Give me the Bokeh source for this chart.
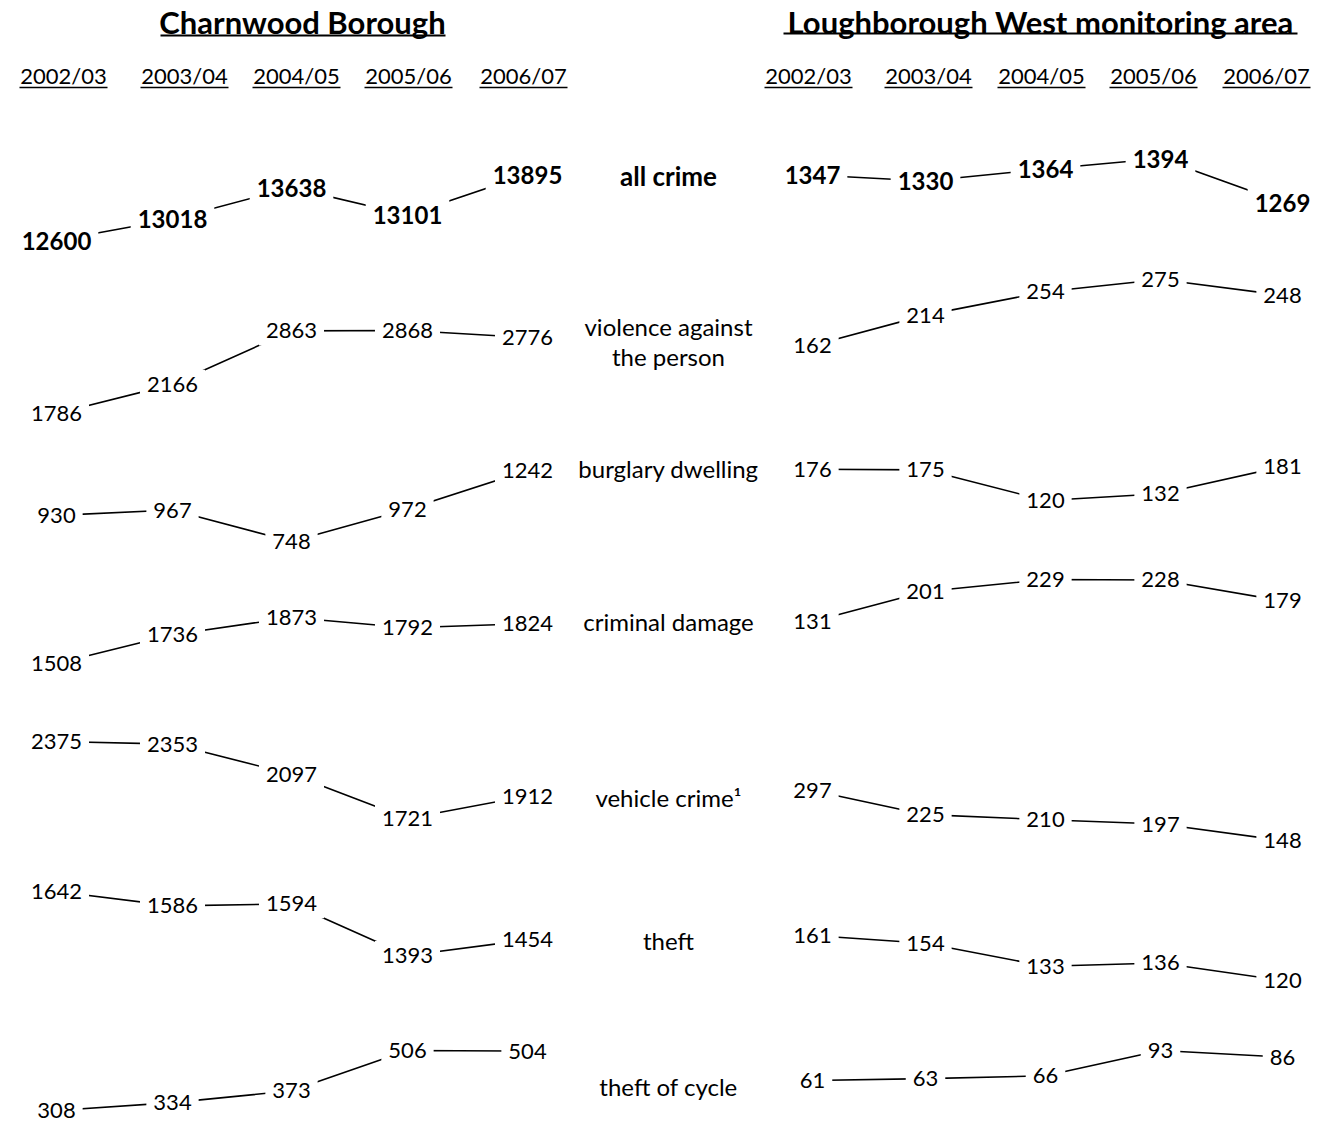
from bokeh.plotting import figure
from bokeh.models import Range1d, ColumnDataSource
from bokeh.embed import file_html
from bokeh.resources import INLINE
from bokeh.core.properties import value

# ---------------- data ----------------
years = ["2002/03", "2003/04", "2004/05", "2005/06", "2006/07"]
categories = ["all crime", "violence against\nthe person", "burglary dwelling",
              "criminal damage", "vehicle crime\u00b9", "theft", "theft of cycle"]
area_titles = ["Charnwood Borough", "Loughborough West monitoring area"]

cw_all_crime = [12600, 13018, 13638, 13101, 13895]
cw_violence = [1786, 2166, 2863, 2868, 2776]
cw_burglary = [930, 967, 748, 972, 1242]
cw_damage = [1508, 1736, 1873, 1792, 1824]
cw_vehicle = [2375, 2353, 2097, 1721, 1912]
cw_theft = [1642, 1586, 1594, 1393, 1454]
cw_cycle = [308, 334, 373, 506, 504]

lw_all_crime = [1347, 1330, 1364, 1394, 1269]
lw_violence = [162, 214, 254, 275, 248]
lw_burglary = [176, 175, 120, 132, 181]
lw_damage = [131, 201, 229, 228, 179]
lw_vehicle = [297, 225, 210, 197, 148]
lw_theft = [161, 154, 133, 136, 120]
lw_cycle = [61, 63, 66, 93, 86]

charnwood_rows = [cw_all_crime, cw_violence, cw_burglary, cw_damage, cw_vehicle, cw_theft, cw_cycle]
west_rows = [lw_all_crime, lw_violence, lw_burglary, lw_damage, lw_vehicle, lw_theft, lw_cycle]

# ---------------- layout ----------------
W, H, M = 1311, 1131, 0
FONT = "Lato"
LEFT_COL_X = [56, 172, 291, 407, 527]
RIGHT_COL_X = [812, 925, 1045, 1160, 1282]
CAT_X = 668
CAT_Y = [175, 341, 468, 621, 797, 940, 1086]
# pixel rows (y of minimum value, y of maximum value) for each band
LEFT_ROW_PIX = [(240, 174), (413, 330), (541, 470), (663, 617), (818, 741), (955, 891), (1110, 1050)]
RIGHT_ROW_PIX = [(202, 158), (345, 279), (500, 466), (621, 579), (840, 790), (980, 935), (1080, 1050)]
TITLE_X = [302, 1040]
TITLE_Y = 21
TITLE_UL = [(160, 445, 35), (783, 1297, 33)]
YEAR_X = [63, 184, 296, 408, 523, 808, 928, 1041, 1153, 1266]
YEAR_Y = 75
YEAR_UL_Y = 87
YEAR_HALF = 44

p = figure(width=W, height=H, x_range=Range1d(M, M + W), y_range=Range1d(M + H, M),
           output_backend="svg", toolbar_location=None,
           x_axis_location=None, y_axis_location=None, min_border=0,
           outline_line_color=None, background_fill_color="white")
p.grid.visible = False


def add_row(name, vals, col_x, pix, bold):
    vmin, vmax = min(vals), max(vals)
    y_bot, y_top = pix
    k = (y_bot - y_top) / (vmax - vmin)
    s = vmin - (M + H - y_bot) / k
    e = s + H / k
    p.extra_y_ranges[name] = Range1d(s, e)
    src = ColumnDataSource(dict(x=col_x, y=vals, label=[str(v) for v in vals]))
    p.line("x", "y", source=src, y_range_name=name, line_color="black", line_width=1.6)
    p.text("x", "y", text="label", source=src, y_range_name=name,
           text_font=value(FONT), text_font_size="24px" if bold else "22px",
           text_font_style="bold" if bold else "normal", text_color="black",
           text_align="center", text_baseline="middle",
           background_fill_color="white", padding=7)


for i, vals in enumerate(charnwood_rows):
    add_row(f"cw{i}", vals, LEFT_COL_X, LEFT_ROW_PIX[i], i == 0)
for i, vals in enumerate(west_rows):
    add_row(f"lw{i}", vals, RIGHT_COL_X, RIGHT_ROW_PIX[i], i == 0)

# category labels
p.text(x=[CAT_X], y=[CAT_Y[0]], text=[categories[0]], text_font=value(FONT),
       text_font_size="26px", text_font_style="bold", text_align="center",
       text_baseline="middle", text_color="black")
cat_src = ColumnDataSource(dict(x=[CAT_X] * (len(categories) - 1), y=CAT_Y[1:], t=categories[1:]))
p.text("x", "y", text="t", source=cat_src, text_font=value(FONT), text_font_size="24px",
       text_align="center", text_baseline="middle",
       text_line_height=1.05, text_color="black")

# titles
p.text(x=TITLE_X, y=[TITLE_Y, TITLE_Y], text=area_titles, text_font=value(FONT),
       text_font_size="31px", text_font_style="bold", text_align="center",
       text_baseline="middle", text_color="black")
p.segment(x0=[u[0] for u in TITLE_UL], x1=[u[1] for u in TITLE_UL],
          y0=[u[2] for u in TITLE_UL], y1=[u[2] for u in TITLE_UL],
          line_color="black", line_width=1.8)

# year headers
p.text(x=YEAR_X, y=[YEAR_Y] * 10, text=years + years, text_font=value(FONT),
       text_font_size="22px", text_align="center", text_baseline="middle", text_color="black")
p.segment(x0=[x - YEAR_HALF for x in YEAR_X], x1=[x + YEAR_HALF for x in YEAR_X],
          y0=[YEAR_UL_Y] * 10, y1=[YEAR_UL_Y] * 10, line_color="black", line_width=1.4)

open("out.html", "w").write(file_html(p, INLINE))
